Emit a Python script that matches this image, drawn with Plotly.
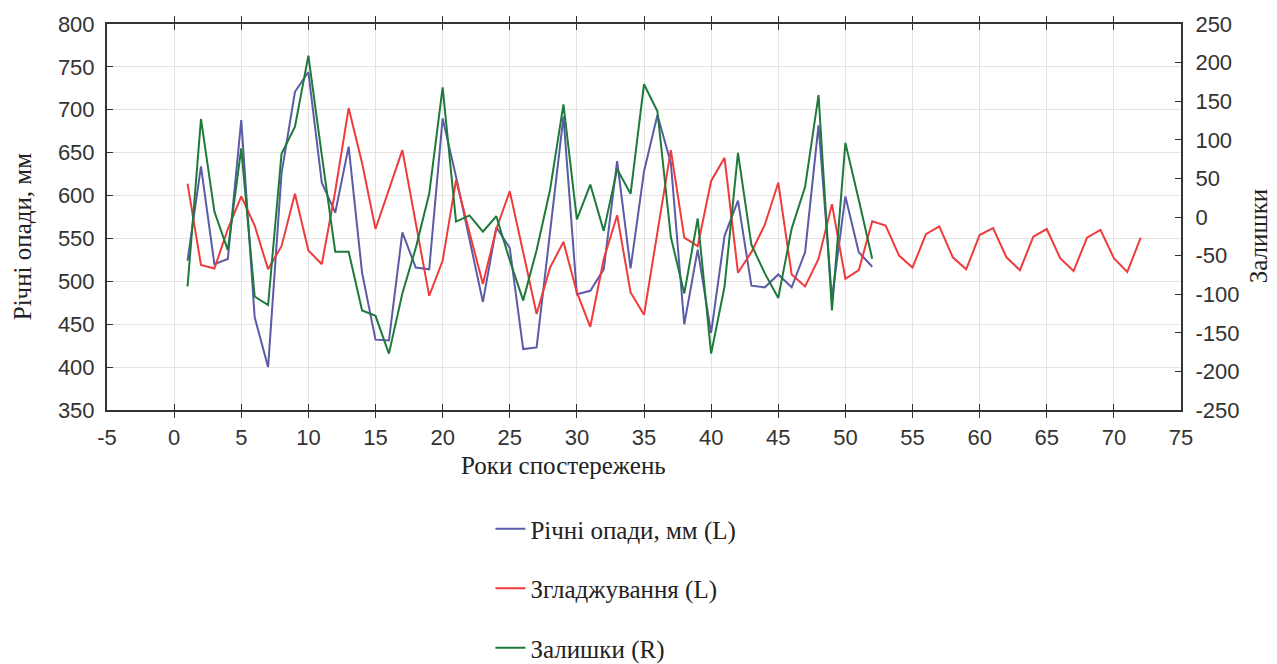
import plotly.graph_objects as go

years_obs = list(range(1, 53))
years_smooth = list(range(1, 73))

rainfall = [524, 634, 520, 526, 688, 458, 400, 626, 721, 744,
            615, 580, 657, 510, 432, 431, 557, 516, 514, 690,
            622, 549, 476, 563, 539, 421, 423, 557, 692, 485,
            489, 514, 640, 515, 628, 694, 638, 450, 537, 440,
            553, 594, 495, 493, 508, 493, 534, 682, 480, 599,
            534, 517]

smoothing = [614, 519, 515, 561, 599, 565, 514, 541, 602, 536,
             520, 605, 702, 638, 561, 607, 653, 568, 483, 524,
             618, 557, 497, 561, 605, 534, 462, 516, 546, 487,
             447, 526, 577, 487, 461, 557, 653, 551, 541, 617,
             644, 510, 534, 566, 615, 508, 494, 526, 590, 503,
             513, 570, 565, 530, 516, 555, 564, 528, 514, 554,
             562, 528, 513, 552, 561, 527, 512, 551, 560, 527,
             511, 551]

residuals = [-90, 127, 7, -43, 89, -103, -114, 82, 117, 209,
             80, -45, -45, -121, -128, -177, -99, -40, 30, 168,
             -6, 2, -19, 1, -56, -108, -43, 35, 146, -3,
             42, -18, 62, 30, 172, 137, -26, -99, -2, -177,
             -90, 83, -36, -73, -105, -15, 39, 158, -121, 96,
             22, -54]

x_tick_vals = list(range(-5, 80, 5))
x_tick_labels = [str(v) for v in x_tick_vals]
y_tick_vals = list(range(350, 850, 50))
y_tick_labels = [str(v) for v in y_tick_vals]
y2_tick_vals = list(range(-250, 300, 50))
y2_tick_labels = [str(v) for v in y2_tick_vals]

names = ["Річні опади, мм (L)", "Згладжування (L)", "Залишки (R)"]
colors = ["#5b5ba8", "#ef3b3b", "#1d7a3a"]

fig = go.Figure()
fig.add_trace(go.Scatter(x=years_obs, y=rainfall, mode="lines", name=names[0],
                         line=dict(color=colors[0], width=2), legendgroup="a"))
fig.add_trace(go.Scatter(x=years_smooth, y=smoothing, mode="lines", name=names[1],
                         line=dict(color=colors[1], width=2), legendgroup="b"))
fig.add_trace(go.Scatter(x=years_obs, y=residuals, mode="lines", name=names[2],
                         line=dict(color=colors[2], width=2), legendgroup="c", yaxis="y2"))

tickfont = dict(family="Liberation Sans, Arial", size=22, color="#333333")
serif = dict(family="Liberation Serif, Times New Roman", size=25, color="#222222")
frame = "#333333"
grid = "#e8e3e3"

fig.update_layout(
    width=1277, height=664,
    margin=dict(l=107, r=96, t=24, b=254, autoexpand=False),
    paper_bgcolor="white", plot_bgcolor="white",
    showlegend=True,
    legend=dict(x=0.357, y=-0.249, xanchor="left", yanchor="top",
                orientation="v", traceorder="grouped", tracegroupgap=24,
                font=serif, bgcolor="rgba(0,0,0,0)"),
    xaxis=dict(range=[-5, 75], tickmode="array", tickvals=x_tick_vals, ticktext=x_tick_labels,
               showgrid=True, gridcolor=grid, gridwidth=1,
               zeroline=False, showline=True, linecolor=frame, linewidth=2, mirror="allticks",
               ticks="inside", ticklen=6, tickcolor=frame, tickfont=tickfont,
               ticklabelstandoff=7),
    yaxis=dict(range=[350, 800], tickmode="array", tickvals=y_tick_vals, ticktext=y_tick_labels,
               showgrid=True, gridcolor=grid, gridwidth=1,
               zeroline=False, showline=True, linecolor=frame, linewidth=2,
               ticks="inside", ticklen=6, tickcolor=frame, tickfont=tickfont,
               ticklabelstandoff=6),
    yaxis2=dict(range=[-250, 250], tickmode="array", tickvals=y2_tick_vals, ticktext=y2_tick_labels,
                overlaying="y", side="right",
                showgrid=False, zeroline=False, showline=True, linecolor=frame, linewidth=2,
                ticks="inside", ticklen=6, tickcolor=frame, tickfont=tickfont,
                ticklabelstandoff=8),
    annotations=[
        dict(text="Роки спостережень", xref="paper", yref="paper", x=0.4246, y=-0.145,
             xanchor="center", yanchor="middle", showarrow=False, font=serif),
        dict(text="Річні опади, мм", xref="paper", yref="paper", x=-0.079, y=0.448,
             xanchor="center", yanchor="middle", showarrow=False, textangle=-90, font=serif),
        dict(text="Залишки", xref="paper", yref="paper", x=1.0717, y=0.45,
             xanchor="center", yanchor="middle", showarrow=False, textangle=-90, font=serif),
    ],
)

fig.write_html("out.html")
